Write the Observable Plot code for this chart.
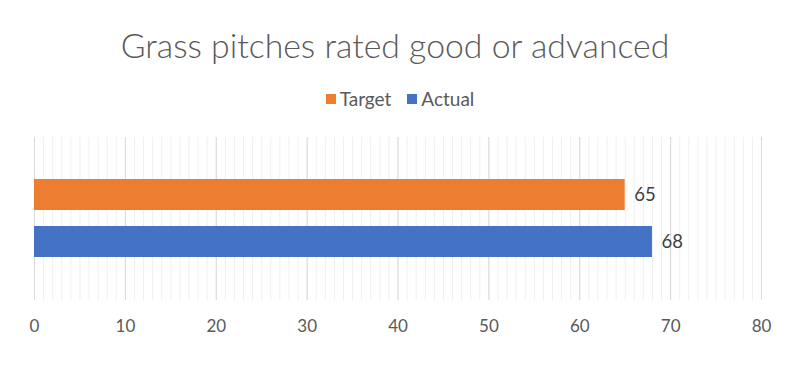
<!DOCTYPE html>
<html><head><meta charset="utf-8">
<script src="https://cdn.jsdelivr.net/npm/d3@7"></script>
<script src="https://cdn.jsdelivr.net/npm/@observablehq/plot@0.6"></script>
<style>
body{margin:0;background:#fff;font-family:Lato,"Noto Sans",sans-serif;}
#wrap{width:800px;height:372px;position:relative;overflow:hidden;background:#fff}
#title{position:absolute;top:25px;left:-5px;width:800px;text-align:center;font-size:33.8px;font-weight:300;color:#595959;line-height:40px;white-space:nowrap}
#legend{position:absolute;top:88px;left:0;width:800px;display:flex;justify-content:center;align-items:center;font-size:19px;color:#595959;line-height:22px}
.item{display:flex;align-items:center;margin:0 8px}
.sw{width:10px;height:10px;margin-right:4px}
#chart{position:absolute;top:120px;left:0}
</style></head>
<body><div id="wrap"><div id="title"></div><div id="legend"></div><div id="chart"></div></div>
<script>
const title = "Grass pitches rated good or advanced";
const categories = ["Target", "Actual"];
const values = [65, 68];
const colors = ["#ED7D31", "#4472C4"];
const xTicks = [0, 10, 20, 30, 40, 50, 60, 70, 80];

document.getElementById("title").textContent = title;
const leg = document.getElementById("legend");
categories.forEach((c, i) => {
  const it = document.createElement("div"); it.className = "item";
  const sw = document.createElement("div"); sw.className = "sw"; sw.style.background = colors[i];
  const t = document.createElement("span"); t.textContent = c;
  it.appendChild(sw); it.appendChild(t); leg.appendChild(it);
});

const data = categories.map((c, i) => ({cat: c, value: values[i]}));
const minor = d3.range(xTicks[0], xTicks[xTicks.length - 1] + 1, 1);

const chart = Plot.plot({
  width: 800, height: 252,
  marginTop: 17, marginBottom: 72, marginLeft: 34, marginRight: 39,
  style: {fontFamily: "Lato, 'Noto Sans', sans-serif", fontSize: "17px", color: "#595959", background: "#fff"},
  x: {domain: [0, 80], ticks: xTicks, tickSize: 0, tickPadding: 19, label: null, tickFormat: d => d},
  y: {domain: categories, paddingInner: 0.33, paddingOuter: 0.88, axis: null},
  color: {domain: categories, range: colors},
  marks: [
    Plot.ruleX(minor, {stroke: "#f0f0f0", strokeWidth: 1}),
    Plot.ruleX(xTicks, {stroke: "#d9d9d9", strokeWidth: 1}),
    Plot.barX(data, {x: "value", y: "cat", fill: "cat"}),
    Plot.text(data, {x: "value", y: "cat", text: d => String(d.value), textAnchor: "start", dx: 9, fill: "#404040", fontSize: 18.5})
  ]
});
document.getElementById("chart").appendChild(chart);
</script></body></html>
